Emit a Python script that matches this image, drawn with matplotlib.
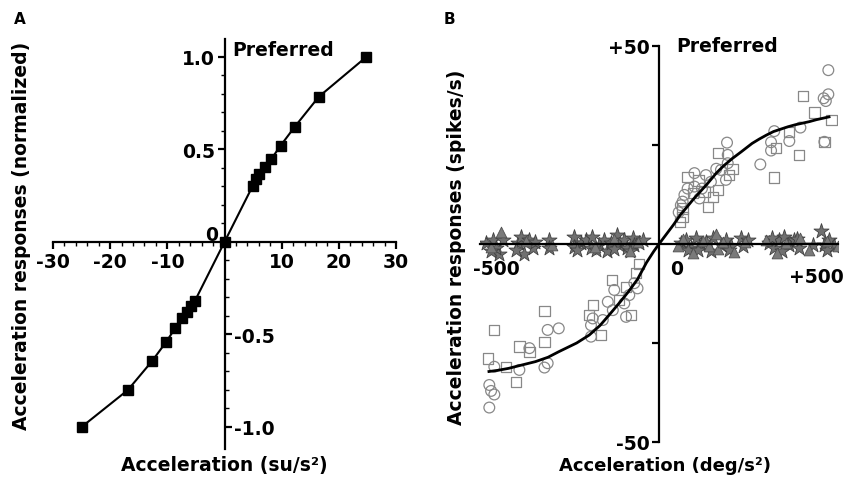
import matplotlib
matplotlib.use("Agg")
import matplotlib.pyplot as plt
import numpy as np

plt.rcParams['font.family'] = ['DejaVu Sans']
plt.rcParams['font.weight'] = 'bold'

# ---------------- Panel A data ----------------
a_x = [-25, -16.9, -12.7, -10.2, -8.6, -7.4, -6.5, -5.8, -5.2, 0,
       4.95, 5.5, 6.1, 7.0, 8.2, 9.8, 12.3, 16.5, 24.8]
a_y = [-1.0, -0.80, -0.645, -0.54, -0.465, -0.41, -0.377, -0.348, -0.32, 0,
       0.304, 0.34, 0.368, 0.404, 0.449, 0.52, 0.623, 0.785, 1.0]
a_xticks = [-30, -20, -10, 10, 20, 30]
a_xticklabels = ['-30', '-20', '-10', '10', '20', '30']
a_yticks_pos = [0.5, 1.0]
a_yticklabels_pos = ['0.5', '1.0']
a_yticks_neg = [-0.5, -1.0]
a_yticklabels_neg = ['-0.5', '-1.0']

# ---------------- Panel B data ----------------
circ_x = [190, 283, 192, 192, 173, 187, 99, 131, 145, 99, 71, 66, 61, 113,
          473, 473, 460, 466, 322, 395, 364, 313, 313, 462, 55, 80, 160, 120,
          -125, -60, -143, -97, -129, -185, -190, -92, -190, -157, -83, -69,
          -311, -280, -362, -311, -320, -390, -460, -474, -469, -460, -474]
circ_y = [25.6, 20.1, 22.5, 20.4, 18.7, 16.2, 17.9, 17.4, 15.7, 14.5, 12.4, 10.7, 9.8, 11.5,
          43.9, 37.8, 36.8, 36.1, 28.5, 29.4, 26.0, 25.7, 23.6, 25.8, 8.0, 14.0, 19.0, 14.0,
          -11.6, -11.2, -14.6, -15.0, -16.7, -18.8, -20.5, -18.4, -23.4, -19.2, -12.9, -9.9,
          -21.7, -21.3, -26.3, -30.1, -31.2, -31.8, -31.0, -35.6, -37.1, -38.0, -41.3]
sq_x = [164, 196, 164, 136, 80, 127, 94, 66, 66, 150, 403, 434, 482, 364, 327, 462,
        392, 322, 205, 110, 58,
        -64, -131, -92, -185, -111, -78, -162, -195, -320, -460, -390, -320, -362,
        -478, -427, -399, -55]
sq_y = [22.9, 17.4, 13.6, 9.3, 17.0, 13.2, 12.8, 9.0, 6.9, 11.9, 37.4, 33.2, 31.3, 28.2, 24.3, 25.7,
        22.5, 16.8, 19.0, 16.0, 5.5,
        -7.4, -9.1, -10.8, -15.4, -14.1, -17.9, -23.0, -17.9, -16.9, -21.7, -25.9, -24.7, -27.2,
        -28.9, -31.0, -34.9, -5.0]
star_x = [-483, -465, -437, -446, -455, -395, -385, -376, -362, -353, -306, -306,
          -237, -218, -204, -186, -190, -167, -153, -144, -134, -116, -111, -97, -88,
          -74, -69, -55, -46, -237, -470, -400, -345, -228, -175, -125, -80,
          61, 75, 89, 103, 117, 131, 145, 173, 187, 201, 229, 234, 248,
          308, 322, 336, 350, 364, 378, 392, 453, 462, 476, 490, 429,
          82, 110, 152, 195, 315, 344, 385, 470]
star_y = [0.2, 1.0, 1.0, -2.4, -1.1, 0.2, 1.8, -2.4, 1.0, -1.1, 1.0, -1.1,
          1.8, 0.2, 1.0, 1.8, -1.1, -0.25, 1.0, -1.8, 0.2, 2.2, -0.25, 1.0, -1.1,
          1.5, -0.25, 0.2, 1.0, -0.8, -1.8, -1.4, 0.4, -1.6, -1.5, -1.2, -1.8,
          0.2, 1.0, -1.1, 1.5, -0.25, 0.6, -1.8, -0.25, 1.0, -0.6, 1.5, -0.6, 1.0,
          0.2, -1.1, 1.0, 1.8, -0.25, 1.0, -1.1, 3.4, -0.25, 1.0, -0.6, -0.2,
          -1.6, -1.4, 1.6, -1.5, 1.4, -1.7, 1.3, -1.5]
tri_x = [-441, -470, -372, -300, -178, -125, -80, -60,
         52, 68, 95, 123, 140, 159, 165, 180, 210, 240, 300, 330, 355, 395, 420, 470, 500]
tri_y = [3.1, -0.8, 0.8, -0.2, -0.8, 1.2, -1.8, 0.6,
         -0.5, 1.2, -2.2, 0.8, -0.4, 2.4, -1.2, 0.4, -2.0, 0.6, 0.9, -2.2, 0.3, 1.4, -1.6, 0.8, -0.4]
fit_x = [-475, -450, -420, -385, -345, -310, -280, -255, -230, -195, -165, -140, -110, -85,
         -60, -35, -15, 0, 20, 40, 60, 75, 95, 115, 135, 160, 180, 205, 230, 260, 280, 300,
         320, 340, 360, 380, 400, 420, 440, 460, 475]
fit_y = [-32.2, -31.9, -31.4, -30.6, -29.7, -28.6, -27.2, -26.1, -25.0, -23.0, -20.6, -18.0,
         -14.8, -12.0, -8.9, -4.7, -1.9, 0, 2.4, 4.8, 7.4, 9.0, 11.2, 13.2, 15.2, 17.9,
         19.7, 21.6, 23.3, 25.4, 26.5, 27.5, 28.4, 29.0, 29.6, 30.1, 30.5, 30.9, 31.4,
         31.8, 32.1]
b_yticks = [-50, -25, 25, 50]
b_yticklabels = ['-50', '', '', '+50']
b_xlabel_pos = [-455, 50, 439]
b_xlabel_y = [-6.1, -6.1, -8.3]
b_xlabels = ['-500', '0', '+500']

W, H = 844, 481
fig = plt.figure(figsize=(W / 100, H / 100), dpi=100)
FS = 13.5
LW = 1.6

def rect(l, t, r, b):
    return [l / W, 1 - b / H, (r - l) / W, (b - t) / H]

# ---------------- Panel A ----------------
axA = fig.add_axes(rect(53, 40, 396, 450))
axA.set_xlim(-30, 30)
axA.set_ylim(-1.119, 1.097)
for s in ['top', 'right']:
    axA.spines[s].set_visible(False)
axA.spines['left'].set_position(('data', 0))
axA.spines['bottom'].set_position(('data', 0))
axA.spines['left'].set_linewidth(LW)
axA.spines['bottom'].set_linewidth(LW)
axA.plot(a_x, a_y, color='black', lw=1.5, marker='s', ms=6.5, mfc='black', mec='black', zorder=3)
axA.set_xticks(a_xticks, a_xticklabels)
axA.set_xticks(np.arange(-30, 31, 2), minor=True)
axA.set_yticks(a_yticks_pos, a_yticklabels_pos)
axA.set_yticks(np.arange(0.1, 1.05, 0.1), minor=True)
axA.tick_params(axis='both', which='major', direction='out', length=5, width=LW, labelsize=FS, pad=2)
axA.tick_params(axis='both', which='minor', direction='out', length=3, width=1.0)
secA = axA.secondary_yaxis(0.5)
secA.spines['right'].set_visible(False)
secA.spines['left'].set_visible(False)
secA.set_yticks(a_yticks_neg, a_yticklabels_neg)
secA.set_yticks(np.arange(-1.0, -0.05, 0.1), minor=True)
secA.tick_params(axis='y', which='major', direction='out', length=5, width=LW, labelsize=FS, pad=2)
secA.tick_params(axis='y', which='minor', direction='out', length=3, width=1.0)
for t in axA.get_xticklabels() + axA.get_yticklabels() + secA.get_yticklabels():
    t.set_fontweight('bold')
axA.text(-2.3, 0.043, '0', fontsize=FS, fontweight='bold', ha='center', va='center')
axA.text(1.3, 1.04, 'Preferred', fontsize=FS, fontweight='bold', ha='left', va='center')
fig.text(20 / W, 1 - 20 / H, 'A', fontsize=11, fontweight='bold', ha='center', va='center')
fig.text(22 / W, 1 - 236 / H, 'Acceleration responses (normalized)', rotation=90,
         fontsize=FS, fontweight='bold', ha='center', va='center')
fig.text(224 / W, 1 - 466 / H, 'Acceleration (su/s²)', fontsize=FS, fontweight='bold',
         ha='center', va='center')

# ---------------- Panel B ----------------
axB = fig.add_axes(rect(480, 47, 838, 443))
axB.set_xlim(-500, 500)
axB.set_ylim(-50, 50)
for s in ['top', 'right']:
    axB.spines[s].set_visible(False)
axB.spines['left'].set_position(('data', 0))
axB.spines['bottom'].set_position(('data', 0))
axB.spines['left'].set_linewidth(LW)
axB.spines['bottom'].set_linewidth(LW)
axB.set_xticks([])
axB.set_yticks(b_yticks, b_yticklabels)
axB.tick_params(axis='y', direction='out', length=5, width=LW, labelsize=FS, pad=2)
for t in axB.get_yticklabels():
    t.set_fontweight('bold')
axB.scatter(star_x, star_y, marker='*', s=130, c='#707070', edgecolors='#404040',
            linewidths=0.6, zorder=2)
axB.scatter(tri_x, tri_y, marker='^', s=60, c='#7a7a7a', edgecolors='#505050',
            linewidths=0.6, zorder=2)
axB.scatter(circ_x, circ_y, marker='o', s=60, facecolors='none', edgecolors='#888888',
            linewidths=0.9, zorder=3)
axB.scatter(sq_x, sq_y, marker='s', s=55, facecolors='none', edgecolors='#888888',
            linewidths=0.9, zorder=3)
axB.plot(fit_x, fit_y, color='black', lw=2.0, zorder=4)
for xp, yp, lab in zip(b_xlabel_pos, b_xlabel_y, b_xlabels):
    axB.text(xp, yp, lab, fontsize=FS, fontweight='bold', ha='center', va='center')
axB.text(48, 50, 'Preferred', fontsize=FS, fontweight='bold', ha='left', va='center')
fig.text(449 / W, 1 - 19 / H, 'B', fontsize=11, fontweight='bold', ha='center', va='center')
fig.text(457 / W, 1 - 247 / H, 'Acceleration responses (spikes/s)', rotation=90,
         fontsize=FS, fontweight='bold', ha='center', va='center')
fig.text(665 / W, 1 - 466 / H, 'Acceleration (deg/s²)', fontsize=13, fontweight='bold',
         ha='center', va='center')

fig.savefig('out.png', dpi=100)
